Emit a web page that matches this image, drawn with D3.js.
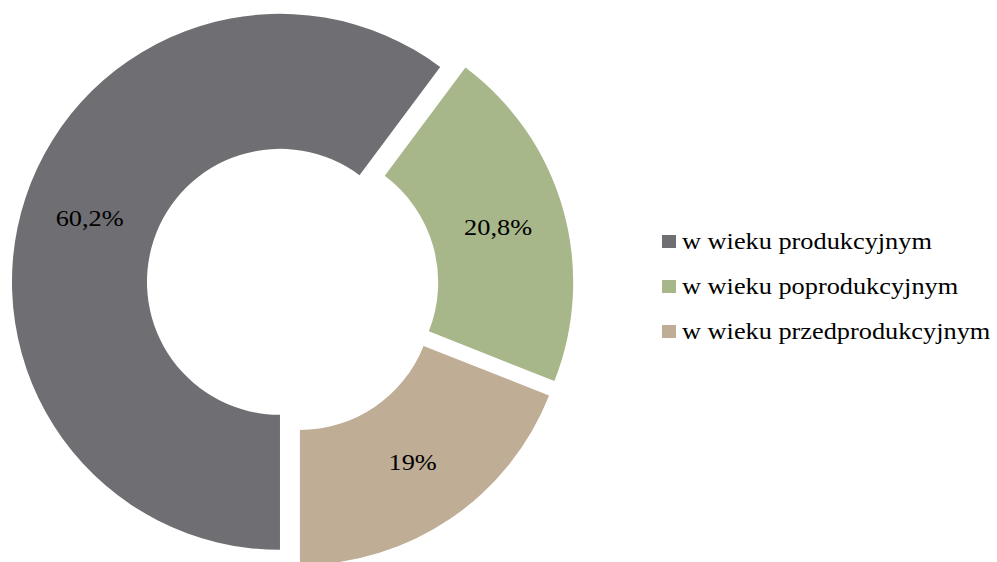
<!DOCTYPE html>
<html><head><meta charset="utf-8">
<script src="https://cdn.jsdelivr.net/npm/d3@7"></script>
<style>body{margin:0;background:#fff}svg{display:block}</style>
</head><body>
<svg id="c" width="997" height="562"></svg>
<script>
const categories = ["w wieku produkcyjnym", "w wieku poprodukcyjnym", "w wieku przedprodukcyjnym"];
const values = [60.2, 20.8, 19];
const labels = ["60,2%", "20,8%", "19%"];
const colors = ["#6f6e73", "#a7b78a", "#bfad96"];

const FONT = "'Liberation Serif', 'Times New Roman', Times, serif";
const FS = 22.5, SX = 1.17;
const svg = d3.select("#c");
const cx = 292.5, cy = 286, R = 268, r = 133, explode = 13.2;
const startA = Math.PI; // start at bottom, clockwise
const pie = d3.pie().sort(null).value(d => d).startAngle(startA).endAngle(startA + 2 * Math.PI);
const arcs = pie(values);
const arc = d3.arc().innerRadius(r).outerRadius(R);
const g = svg.append("g").attr("transform", `translate(${cx},${cy})`);
const slice = g.selectAll("g.s").data(arcs).enter().append("g").attr("class", "s")
  .attr("transform", d => {
    const m = (d.startAngle + d.endAngle) / 2;
    return `translate(${explode * Math.sin(m)},${-explode * Math.cos(m)})`;
  });
slice.append("path").attr("d", arc).attr("fill", (d, i) => colors[i]);
slice.append("text")
  .attr("transform", d => `translate(${arc.centroid(d)[0]},${arc.centroid(d)[1]}) scale(${SX},1)`)
  .attr("text-anchor", "middle").attr("dy", "0.33em")
  .attr("font-family", FONT).attr("font-size", FS).attr("fill", "#000")
  .text((d, i) => labels[i]);

const lg = svg.append("g").attr("transform", "translate(662,242)");
const row = lg.selectAll("g").data(categories).enter().append("g")
  .attr("transform", (d, i) => `translate(0,${i * 45})`);
row.append("rect").attr("x", 0).attr("y", -7).attr("width", 14).attr("height", 13).attr("fill", (d, i) => colors[i]);
row.append("text").attr("transform", `translate(20,0) scale(${SX},1)`).attr("dy", "0.33em")
  .attr("font-family", FONT).attr("font-size", FS).attr("fill", "#000").text(d => d);
</script>
</body></html>
